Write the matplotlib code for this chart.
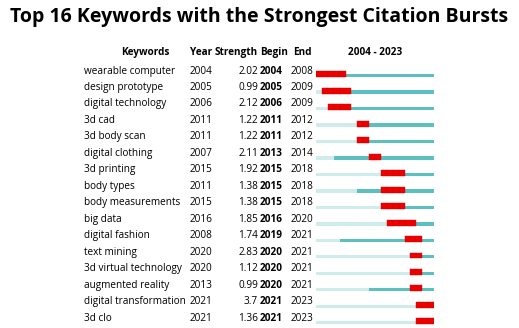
import matplotlib.pyplot as plt
from matplotlib.transforms import blended_transform_factory

keywords = ["wearable computer", "design prototype", "digital technology", "3d cad",
            "3d body scan", "digital clothing", "3d printing", "body types",
            "body measurements", "big data", "digital fashion", "text mining",
            "3d virtual technology", "augmented reality", "digital transformation", "3d clo"]
years = [2004, 2005, 2006, 2011, 2011, 2007, 2015, 2011, 2015, 2016, 2008, 2020, 2020, 2013, 2021, 2021]
strength = ["2.02", "0.99", "2.12", "1.22", "1.22", "2.11", "1.92", "1.38", "1.38", "1.85",
            "1.74", "2.83", "1.12", "0.99", "3.7", "1.36"]
begin = [2004, 2005, 2006, 2011, 2011, 2013, 2015, 2015, 2015, 2016, 2019, 2020, 2020, 2020, 2021, 2021]
end = [2008, 2009, 2009, 2012, 2012, 2014, 2018, 2018, 2018, 2020, 2021, 2021, 2021, 2021, 2023, 2023]
first_year, last_year = 2004, 2023

plt.rcParams['font.family'] = ['Open Sans', 'DejaVu Sans']
LIGHT = '#cdeceb'
TEAL = '#5cbfc0'
RED = '#ee0000'

fig = plt.figure(figsize=(5.19, 3.28), dpi=100)
W = 519.0
ax = fig.add_axes([316 / W, 0, 118 / W, 1])
ax.set_xlim(first_year, last_year + 1)
ax.set_ylim(15.6, -4.31)
ax.axis('off')

for i in range(len(keywords)):
    yb = i + 0.28
    ax.barh(yb, years[i] - first_year, left=first_year, height=0.2, color=LIGHT, align='center')
    ax.barh(yb, last_year + 1 - years[i], left=years[i], height=0.2, color=TEAL, align='center')
    for yr in range(begin[i], end[i] + 1):
        ax.barh(yb - 0.08, 1, left=yr, height=0.36, color=RED, edgecolor='#d00000',
                linewidth=0.3, align='center')

tr = blended_transform_factory(fig.transFigure, ax.transData)
fs = 7.2
for i in range(len(keywords)):
    ax.text(84 / W, i, keywords[i], transform=tr, fontsize=fs, va='center', ha='left')
    ax.text(190 / W, i, str(years[i]), transform=tr, fontsize=fs, va='center', ha='left')
    ax.text(258 / W, i, strength[i], transform=tr, fontsize=fs, va='center', ha='right')
    ax.text(260 / W, i, str(begin[i]), transform=tr, fontsize=fs, va='center', ha='left',
            fontweight='bold')
    ax.text(291 / W, i, str(end[i]), transform=tr, fontsize=fs, va='center', ha='left')

hy = -1.1
ax.text(145 / W, hy, "Keywords", transform=tr, fontsize=fs, va='center', ha='center', fontweight='bold')
ax.text(190 / W, hy, "Year", transform=tr, fontsize=fs, va='center', ha='left', fontweight='bold')
ax.text(215 / W, hy, "Strength", transform=tr, fontsize=fs, va='center', ha='left', fontweight='bold')
ax.text(260 / W, hy, "Begin", transform=tr, fontsize=fs, va='center', ha='left', fontweight='bold')
ax.text(293 / W, hy, "End", transform=tr, fontsize=fs, va='center', ha='left', fontweight='bold')
ax.text(375 / W, hy, "%d - %d" % (first_year, last_year), transform=tr, fontsize=fs,
        va='center', ha='center', fontweight='bold')

fig.text(0.5, 1 - 17 / 328.0, "Top 16 Keywords with the Strongest Citation Bursts",
         fontsize=14, fontweight='bold', ha='center', va='center')

fig.savefig("out.png", dpi=100)
